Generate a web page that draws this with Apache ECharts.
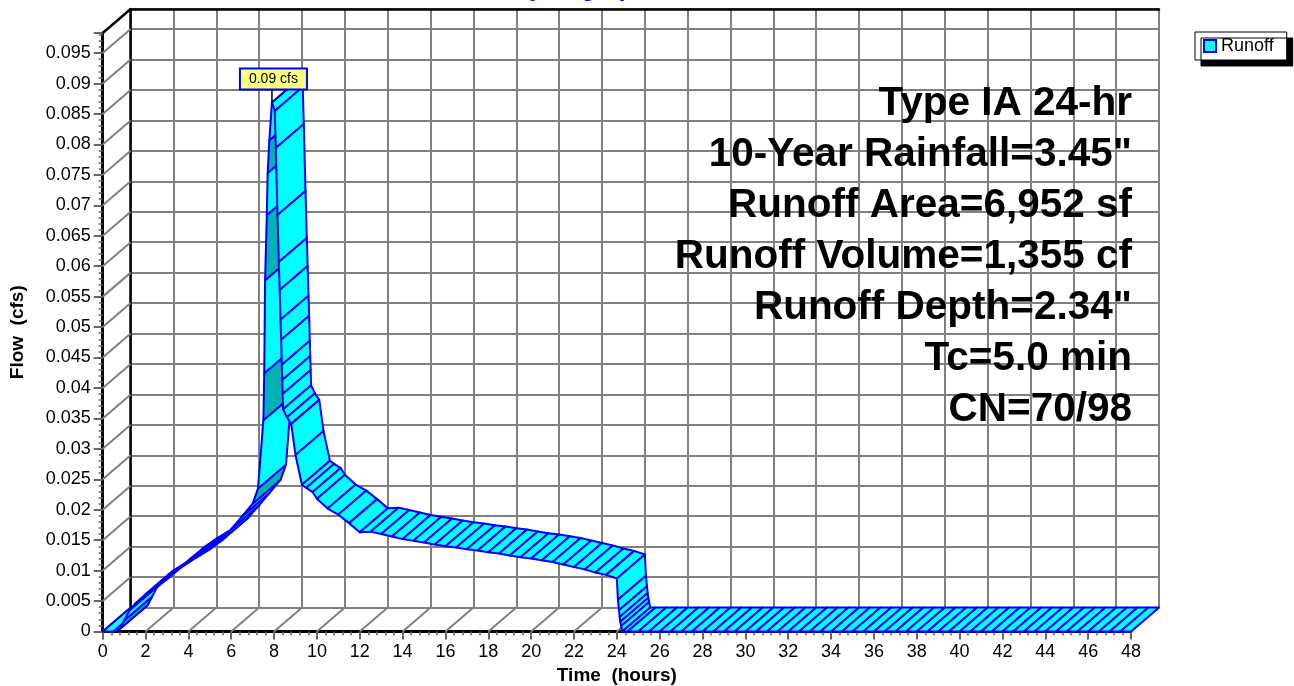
<!DOCTYPE html>
<html>
<head>
<meta charset="utf-8">
<script src="https://cdn.jsdelivr.net/npm/echarts@6/dist/echarts.min.js"></script>
<style>html,body{margin:0;padding:0;background:#fff;}#chart{width:1294px;height:686px;}</style>
</head>
<body>
<div id="chart"></div>
<script>
// ---------------- data ----------------
const seriesName = 'Runoff';
const titleText = 'Hydrograph';
const flowUnit = 'cfs';
const xAxisName = 'Time  (hours)';
const yAxisName = 'Flow  (cfs)';
const times = [0,0.5,0.8,1,1.25,1.5,2,2.5,3,3.5,4,4.5,5,5.5,6,6.5,7,7.25,7.5,7.54,7.58,7.66,7.7,7.78,7.9,
  8.03,8.08,8.16,8.22,8.26,8.3,8.33,8.36,8.38,8.4,8.42,8.6,8.8,9,9.3,9.5,9.8,10,10.5,11,11.5,12,
  12.5,13,13.5,14,14.5,15,15.5,16,16.5,17,17.5,18,18.5,19,19.5,20,20.5,21,21.5,22,22.5,23,23.5,24,
  24.05,24.1,24.13,24.16,24.2,24.25,
  24.5,25,25.5,26,26.5,27,27.5,28,28.5,29,29.5,30,30.5,31,31.5,32,32.5,33,33.5,34,34.5,35,35.5,36,
  36.5,37,37.5,38,38.5,39,39.5,40,40.5,41,41.5,42,42.5,43,43.5,44,44.5,45,45.5,46,46.5,47,47.5,48];
const flows = [0,0,0.0004,0.0018,0.0035,0.0045,0.0061,0.0072,0.0086,0.0101,0.0113,0.0124,0.0135,0.0148,0.0168,0.0189,0.0210,0.0235,0.0347,0.0424,0.0577,0.0684,0.0753,0.0807,0.0869,
  0.0855,0.0794,0.0684,0.0607,0.0561,0.0512,0.0479,0.0438,0.0413,0.0390,0.0365,0.0352,0.0341,0.0290,0.0241,0.0236,0.0229,0.0218,0.0202,0.0192,0.0178,0.0163,
  0.0164,0.0160,0.0156,0.0152,0.0149,0.0146,0.0143,0.0140,0.0138,0.0135,0.0133,0.0130,0.0128,0.0125,0.0122,0.0120,0.0117,0.0114,0.0110,0.0106,0.0102,0.0097,0.0093,0.0087,
  0.0052,0.0035,0.0024,0.0016,0.0009,0,
  0,0,0,0,0,0,0,0,0,0,0,0,0,0,0,0,0,0,0,0,0,0,0,0,
  0,0,0,0,0,0,0,0,0,0,0,0,0,0,0,0,0,0,0,0,0,0,0,0];
const xTicks = [0,2,4,6,8,10,12,14,16,18,20,22,24,26,28,30,32,34,36,38,40,42,44,46,48];
const yTicks = [0,0.005,0.01,0.015,0.02,0.025,0.03,0.035,0.04,0.045,0.05,0.055,0.06,0.065,0.07,0.075,0.08,0.085,0.09,0.095];
const xMax = 48;
const yMax = 0.0983;
const infoLines = ['Type IA 24-hr','10-Year Rainfall=3.45"','Runoff Area=6,952 sf','Runoff Volume=1,355 cf','Runoff Depth=2.34"','Tc=5.0 min','CN=70/98'];

// ---------------- layout / style ----------------
const FONT = '"Liberation Sans", Arial, sans-serif';
const GL = 102.7, GR = 163, GT = 33, GB = 54.5;   // front plane
const DX = 28, DY = 24;                           // depth offset (px)
const GRID_GRAY = '#808080';
const CYAN = '#00FFFF', BLUE = '#0000FF', DARK = '#00B2B2';

const seriesData = times.map((t, i) => [t, flows[i]]);
let peakIdx = 0;
flows.forEach((q, i) => { if (q > flows[peakIdx]) peakIdx = i; });

const chart = echarts.init(document.getElementById('chart'), null, {renderer: 'canvas'});

const option = {
  animation: false,
  backgroundColor: '#fff',
  grid: [
    {left: GL, right: GR, top: GT, bottom: GB, containLabel: false, outerBoundsMode: 'none'},
    {left: GL + DX, right: GR - DX, top: GT - DY, bottom: GB + DY, containLabel: false, outerBoundsMode: 'none'}
  ],
  legend: {
    data: [{name: seriesName, icon: 'rect', itemStyle: {color: CYAN, borderColor: BLUE, borderWidth: 2}}],
    left: 1195, top: 32,
    padding: [5, 13, 5, 8],
    itemWidth: 12, itemHeight: 12,
    textStyle: {fontSize: 18, fontFamily: FONT, color: '#000'},
    backgroundColor: '#fff', borderColor: '#000', borderWidth: 1,
    shadowColor: '#000', shadowBlur: 0, shadowOffsetX: 6, shadowOffsetY: 6,
    selectedMode: false
  },
  xAxis: [
    {
      gridIndex: 0, type: 'value', min: 0, max: xMax, interval: 2,
      axisLine: {show: true, onZero: false, lineStyle: {color: '#000', width: 3}},
      axisTick: {show: true, length: 8, lineStyle: {color: '#666', width: 2}},
      minorTick: {show: true, splitNumber: 5, length: 4, lineStyle: {color: '#666', width: 1.5}},
      splitLine: {show: false},
      axisLabel: {fontSize: 18, fontFamily: FONT, color: '#000', margin: 12},
      name: xAxisName, nameLocation: 'middle', nameGap: 35,
      nameTextStyle: {fontSize: 19, fontWeight: 'bold', fontFamily: FONT, color: '#000'}
    },
    {
      gridIndex: 1, type: 'value', min: 0, max: xMax, interval: 2, position: 'top',
      axisLine: {show: true, onZero: false, lineStyle: {color: '#000', width: 2.5}},
      axisTick: {show: false}, axisLabel: {show: false},
      splitLine: {show: true, lineStyle: {color: GRID_GRAY, width: 2}}
    }
  ],
  yAxis: [
    {
      gridIndex: 0, type: 'value', min: 0, max: yMax, interval: 0.005,
      axisLine: {show: true, onZero: false, lineStyle: {color: '#000', width: 3}},
      axisTick: {show: true, length: 9, lineStyle: {color: '#666', width: 2}},
      minorTick: {show: true, splitNumber: 5, length: 4, lineStyle: {color: '#666', width: 1.5}},
      splitLine: {show: false},
      axisLabel: {
        fontSize: 18, fontFamily: FONT, color: '#000', margin: 12, showMaxLabel: false,
        formatter: v => (v > 0.0955 ? '' : String(Math.round(v * 1000) / 1000))
      },
      name: yAxisName, nameLocation: 'middle', nameGap: 75, nameRotate: 90,
      nameTextStyle: {fontSize: 19, fontWeight: 'bold', fontFamily: FONT, color: '#000'}
    },
    {
      gridIndex: 1, type: 'value', min: 0, max: yMax, interval: 0.005,
      axisLine: {show: true, onZero: false, lineStyle: {color: '#000', width: 2.5}},
      axisTick: {show: false}, axisLabel: {show: false},
      splitLine: {show: true, lineStyle: {color: GRID_GRAY, width: 2}}
    }
  ],
  series: [
    { // left wall diagonals
      type: 'custom', name: 'wall', xAxisIndex: 0, yAxisIndex: 0, silent: true, z: 1,
      data: yTicks.map(v => [0, v]),
      renderItem: (params, api) => {
        const p = api.coord([api.value(0), api.value(1)]);
        return {type: 'line', shape: {x1: p[0], y1: p[1], x2: p[0] + DX, y2: p[1] - DY},
                style: {stroke: GRID_GRAY, lineWidth: 2}};
      }
    },
    { // floor diagonals
      type: 'custom', name: 'floor', xAxisIndex: 0, yAxisIndex: 0, silent: true, z: 1,
      data: xTicks.map(t => [t, 0]),
      renderItem: (params, api) => {
        const p = api.coord([api.value(0), api.value(1)]);
        return {type: 'line', shape: {x1: p[0], y1: p[1], x2: p[0] + DX, y2: p[1] - DY},
                style: {stroke: GRID_GRAY, lineWidth: 2}};
      }
    },
    { // top-left edge
      type: 'custom', name: 'edge', xAxisIndex: 0, yAxisIndex: 0, silent: true, z: 1,
      data: [[0, yMax]],
      renderItem: (params, api) => {
        const p = api.coord([api.value(0), api.value(1)]);
        return {type: 'line', shape: {x1: p[0], y1: p[1], x2: p[0] + DX, y2: p[1] - DY},
                style: {stroke: '#000', lineWidth: 2.5}};
      }
    },
    { // 3D ribbon hydrograph
      type: 'custom', name: seriesName, xAxisIndex: 0, yAxisIndex: 0, silent: true, z: 3,
      itemStyle: {color: CYAN, borderColor: BLUE},
      data: seriesData,
      renderItem: (params, api) => {
        const i = params.dataIndex;
        if (i >= seriesData.length - 1) return null;
        const p0 = api.coord([api.value(0), api.value(1)]);
        const p1 = api.coord(seriesData[i + 1]);
        const b0 = [p0[0] + DX, p0[1] - DY];
        const b1 = [p1[0] + DX, p1[1] - DY];
        const run = p1[0] - p0[0];
        const rise = p0[1] - p1[1];
        const under = rise * DX > DY * run + 0.01;
        const fill = under ? (i % 2 === 0 ? DARK : CYAN) : CYAN;
        return {type: 'polygon', shape: {points: [p0, p1, b1, b0]},
                style: {fill: fill, stroke: BLUE, lineWidth: 2, lineJoin: 'round'}};
      }
    },
    { // peak label
      type: 'custom', name: 'peak', xAxisIndex: 0, yAxisIndex: 0, silent: true, z: 6,
      data: [seriesData[peakIdx]],
      renderItem: (params, api) => {
        const p = api.coord([api.value(0), api.value(1)]);
        return {type: 'group', children: [
          {type: 'line', shape: {x1: p[0], y1: p[1], x2: p[0], y2: p[1] - 14}, style: {stroke: '#000', lineWidth: 1.5}},
          {type: 'text', style: {
            text: api.value(1).toFixed(2) + ' ' + flowUnit, x: p[0] + 1.5, y: p[1] - 14,
            align: 'center', verticalAlign: 'bottom', font: '14px ' + FONT, fill: '#000',
            backgroundColor: '#FFFF80', borderColor: BLUE, borderWidth: 2, padding: [3, 8, 2, 8]}}
        ]};
      }
    }
  ],
  graphic: [
    {type: 'text', z: 100, x: 580, y: 1,
     style: {text: titleText, align: 'center', verticalAlign: 'bottom', font: 'bold 24px ' + FONT, fill: BLUE}}
  ].concat(infoLines.map((s, i) => ({
    type: 'text', z: 100, x: 1132, y: 104 + i * 51,
    style: {text: s, align: 'right', verticalAlign: 'middle', font: 'bold 40.5px ' + FONT, fill: '#000'}
  })))
};

chart.setOption(option);
</script>
</body>
</html>
